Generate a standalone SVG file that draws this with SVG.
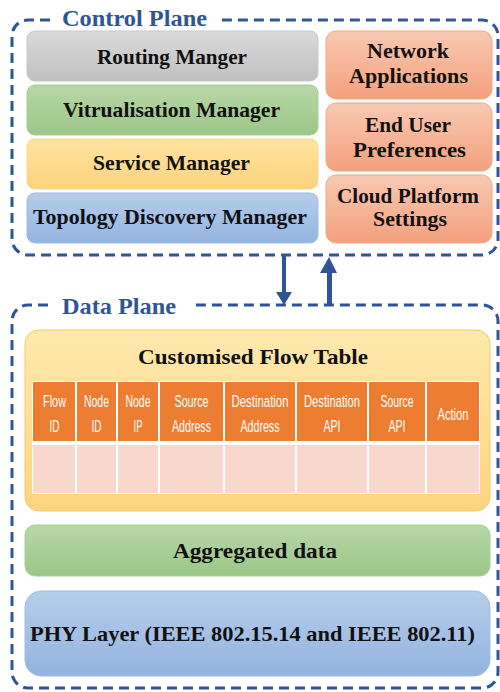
<svg xmlns="http://www.w3.org/2000/svg" width="500" height="692" viewBox="0 0 500 692">
<defs>
<linearGradient id="gGray" x1="0" y1="0" x2="0" y2="1"><stop offset="0" stop-color="#dadada"/><stop offset="1" stop-color="#c0c0c0"/></linearGradient>
<linearGradient id="gGreen" x1="0" y1="0" x2="0" y2="1"><stop offset="0" stop-color="#b7d7a8"/><stop offset="1" stop-color="#9cc687"/></linearGradient>
<linearGradient id="gYellow" x1="0" y1="0" x2="0" y2="1"><stop offset="0" stop-color="#fee4a0"/><stop offset="1" stop-color="#fcd27c"/></linearGradient>
<linearGradient id="gBlue" x1="0" y1="0" x2="0" y2="1"><stop offset="0" stop-color="#b5cdea"/><stop offset="1" stop-color="#93b4e0"/></linearGradient>
<linearGradient id="gOrange" x1="0" y1="0" x2="0" y2="1"><stop offset="0" stop-color="#f8c9b3"/><stop offset="1" stop-color="#f4a07c"/></linearGradient>
<linearGradient id="gTable" x1="0" y1="0" x2="0" y2="1"><stop offset="0" stop-color="#fee9ae"/><stop offset="1" stop-color="#fdd47e"/></linearGradient>
</defs>
<style>
.frame{fill:none;stroke:#2f5597;stroke-width:3;stroke-dasharray:10 6}
.title{font-family:"Liberation Serif","DejaVu Serif",serif;font-weight:bold;font-size:24px;fill:#2f5597}
.lbl{font-family:"Liberation Serif","DejaVu Serif",serif;font-weight:bold;font-size:21px;fill:#111;text-anchor:middle}
.big{font-size:22px}
.hdr{font-family:"Liberation Sans Narrow","Liberation Sans",sans-serif;font-size:16px;fill:#fff;text-anchor:middle}
.box{stroke-width:1}
.arrow{fill:#2f5597}
</style>

<g id="control-plane">
<path class="frame" d="M50 20 L28 20 A16 16 0 0 0 12 36 L12 239 A16 16 0 0 0 28 255 L482 255 A16 16 0 0 0 498 239 L498 36 A16 16 0 0 0 482 20 L219 20"/>
<text class="title" x="62" y="26" textLength="145" lengthAdjust="spacingAndGlyphs">Control Plane</text>
</g>

<g id="routing-manager">
<rect class="box" x="27" y="31" width="291" height="50" rx="8" fill="url(#gGray)" stroke="#c8c8c8"/>
<text class="lbl" x="172" y="64" textLength="150" lengthAdjust="spacingAndGlyphs">Routing Manger</text>
</g>
<g id="virtualisation-manager">
<rect class="box" x="27" y="85" width="291" height="50" rx="8" fill="url(#gGreen)" stroke="#a8cf95"/>
<text class="lbl" x="171.5" y="117" textLength="217" lengthAdjust="spacingAndGlyphs">Vitrualisation Manager</text>
</g>
<g id="service-manager">
<rect class="box" x="27" y="139" width="291" height="50" rx="8" fill="url(#gYellow)" stroke="#f7d88a"/>
<text class="lbl" x="171.5" y="170" textLength="157" lengthAdjust="spacingAndGlyphs">Service Manager</text>
</g>
<g id="topology-manager">
<rect class="box" x="27" y="193" width="291" height="50" rx="8" fill="url(#gBlue)" stroke="#9fbde4"/>
<text class="lbl" x="170" y="224" textLength="274" lengthAdjust="spacingAndGlyphs">Topology Discovery Manager</text>
</g>

<g id="network-applications">
<rect class="box" x="326" y="31" width="166" height="68" rx="10" fill="url(#gOrange)" stroke="#f2a889"/>
<text class="lbl" x="408" y="58" textLength="82" lengthAdjust="spacingAndGlyphs">Network</text>
<text class="lbl" x="408.5" y="83" textLength="119" lengthAdjust="spacingAndGlyphs">Applications</text>
</g>
<g id="end-user-preferences">
<rect class="box" x="326" y="103" width="166" height="68" rx="10" fill="url(#gOrange)" stroke="#f2a889"/>
<text class="lbl" x="408" y="132" textLength="86" lengthAdjust="spacingAndGlyphs">End User</text>
<text class="lbl" x="409.5" y="157" textLength="113" lengthAdjust="spacingAndGlyphs">Preferences</text>
</g>
<g id="cloud-platform-settings">
<rect class="box" x="326" y="175" width="166" height="68" rx="10" fill="url(#gOrange)" stroke="#f2a889"/>
<text class="lbl" x="408" y="203" textLength="142" lengthAdjust="spacingAndGlyphs">Cloud Platform</text>
<text class="lbl" x="410" y="226" textLength="74" lengthAdjust="spacingAndGlyphs">Settings</text>
</g>

<g id="data-plane">
<path class="frame" d="M48 305 L28 305 A16 16 0 0 0 12 321 L12 672 A16 16 0 0 0 28 688 L482 688 A16 16 0 0 0 498 672 L498 321 A16 16 0 0 0 482 305 L191 305"/>
<text class="title" x="62" y="314" textLength="114" lengthAdjust="spacingAndGlyphs">Data Plane</text>
</g>

<g id="connectors">
<rect class="arrow" x="282" y="255" width="4" height="38"/>
<polygon class="arrow" points="276,292 292,292 284,305"/>
<rect class="arrow" x="327" y="272" width="5" height="33"/>
<polygon class="arrow" points="320,273 337,273 329,257"/>
</g>

<g id="flow-table">
<rect x="25" y="330" width="465" height="181" rx="14" fill="url(#gTable)" stroke="#f8c866" stroke-width="1"/>
<text class="lbl big" x="253" y="364" textLength="230" lengthAdjust="spacingAndGlyphs">Customised Flow Table</text>
<rect x="32" y="381" width="448" height="113" fill="#fff"/>
<g fill="#ed7d31">
<rect x="33" y="382" width="42" height="59"/>
<rect x="77" y="382" width="39" height="59"/>
<rect x="118" y="382" width="40" height="59"/>
<rect x="160" y="382" width="63" height="59"/>
<rect x="225" y="382" width="70" height="59"/>
<rect x="297" y="382" width="70" height="59"/>
<rect x="369" y="382" width="56" height="59"/>
<rect x="427" y="382" width="52" height="59"/>
</g>
<g fill="#f8d7cd">
<rect x="33" y="445" width="42" height="48"/>
<rect x="77" y="445" width="39" height="48"/>
<rect x="118" y="445" width="40" height="48"/>
<rect x="160" y="445" width="63" height="48"/>
<rect x="225" y="445" width="70" height="48"/>
<rect x="297" y="445" width="70" height="48"/>
<rect x="369" y="445" width="56" height="48"/>
<rect x="427" y="445" width="52" height="48"/>
</g>
<text class="hdr" x="54.5" y="407" textLength="23" lengthAdjust="spacingAndGlyphs">Flow</text>
<text class="hdr" x="54.5" y="432" textLength="10" lengthAdjust="spacingAndGlyphs">ID</text>
<text class="hdr" x="96.5" y="407" textLength="25" lengthAdjust="spacingAndGlyphs">Node</text>
<text class="hdr" x="96.5" y="432" textLength="10" lengthAdjust="spacingAndGlyphs">ID</text>
<text class="hdr" x="138" y="407" textLength="25" lengthAdjust="spacingAndGlyphs">Node</text>
<text class="hdr" x="138" y="432" textLength="9" lengthAdjust="spacingAndGlyphs">IP</text>
<text class="hdr" x="191.5" y="407" textLength="34" lengthAdjust="spacingAndGlyphs">Source</text>
<text class="hdr" x="191.5" y="432" textLength="39" lengthAdjust="spacingAndGlyphs">Address</text>
<text class="hdr" x="260" y="407" textLength="57" lengthAdjust="spacingAndGlyphs">Destination</text>
<text class="hdr" x="260" y="432" textLength="39" lengthAdjust="spacingAndGlyphs">Address</text>
<text class="hdr" x="332" y="407" textLength="56" lengthAdjust="spacingAndGlyphs">Destination</text>
<text class="hdr" x="332" y="432" textLength="17" lengthAdjust="spacingAndGlyphs">API</text>
<text class="hdr" x="397" y="407" textLength="33" lengthAdjust="spacingAndGlyphs">Source</text>
<text class="hdr" x="397" y="432" textLength="17" lengthAdjust="spacingAndGlyphs">API</text>
<text class="hdr" x="453" y="420" textLength="31" lengthAdjust="spacingAndGlyphs">Action</text>
</g>

<g id="aggregated-data">
<rect class="box" x="25" y="525" width="465" height="51" rx="10" fill="url(#gGreen)" stroke="#a8cf95"/>
<text class="lbl big" x="255" y="558" textLength="164" lengthAdjust="spacingAndGlyphs">Aggregated data</text>
</g>
<g id="phy-layer">
<rect class="box" x="25" y="591" width="465" height="85" rx="16" fill="url(#gBlue)" stroke="#9fbde4"/>
<text class="lbl big" x="252.5" y="641" textLength="445" lengthAdjust="spacingAndGlyphs">PHY Layer (IEEE 802.15.14 and IEEE 802.11)</text>
</g>
</svg>
